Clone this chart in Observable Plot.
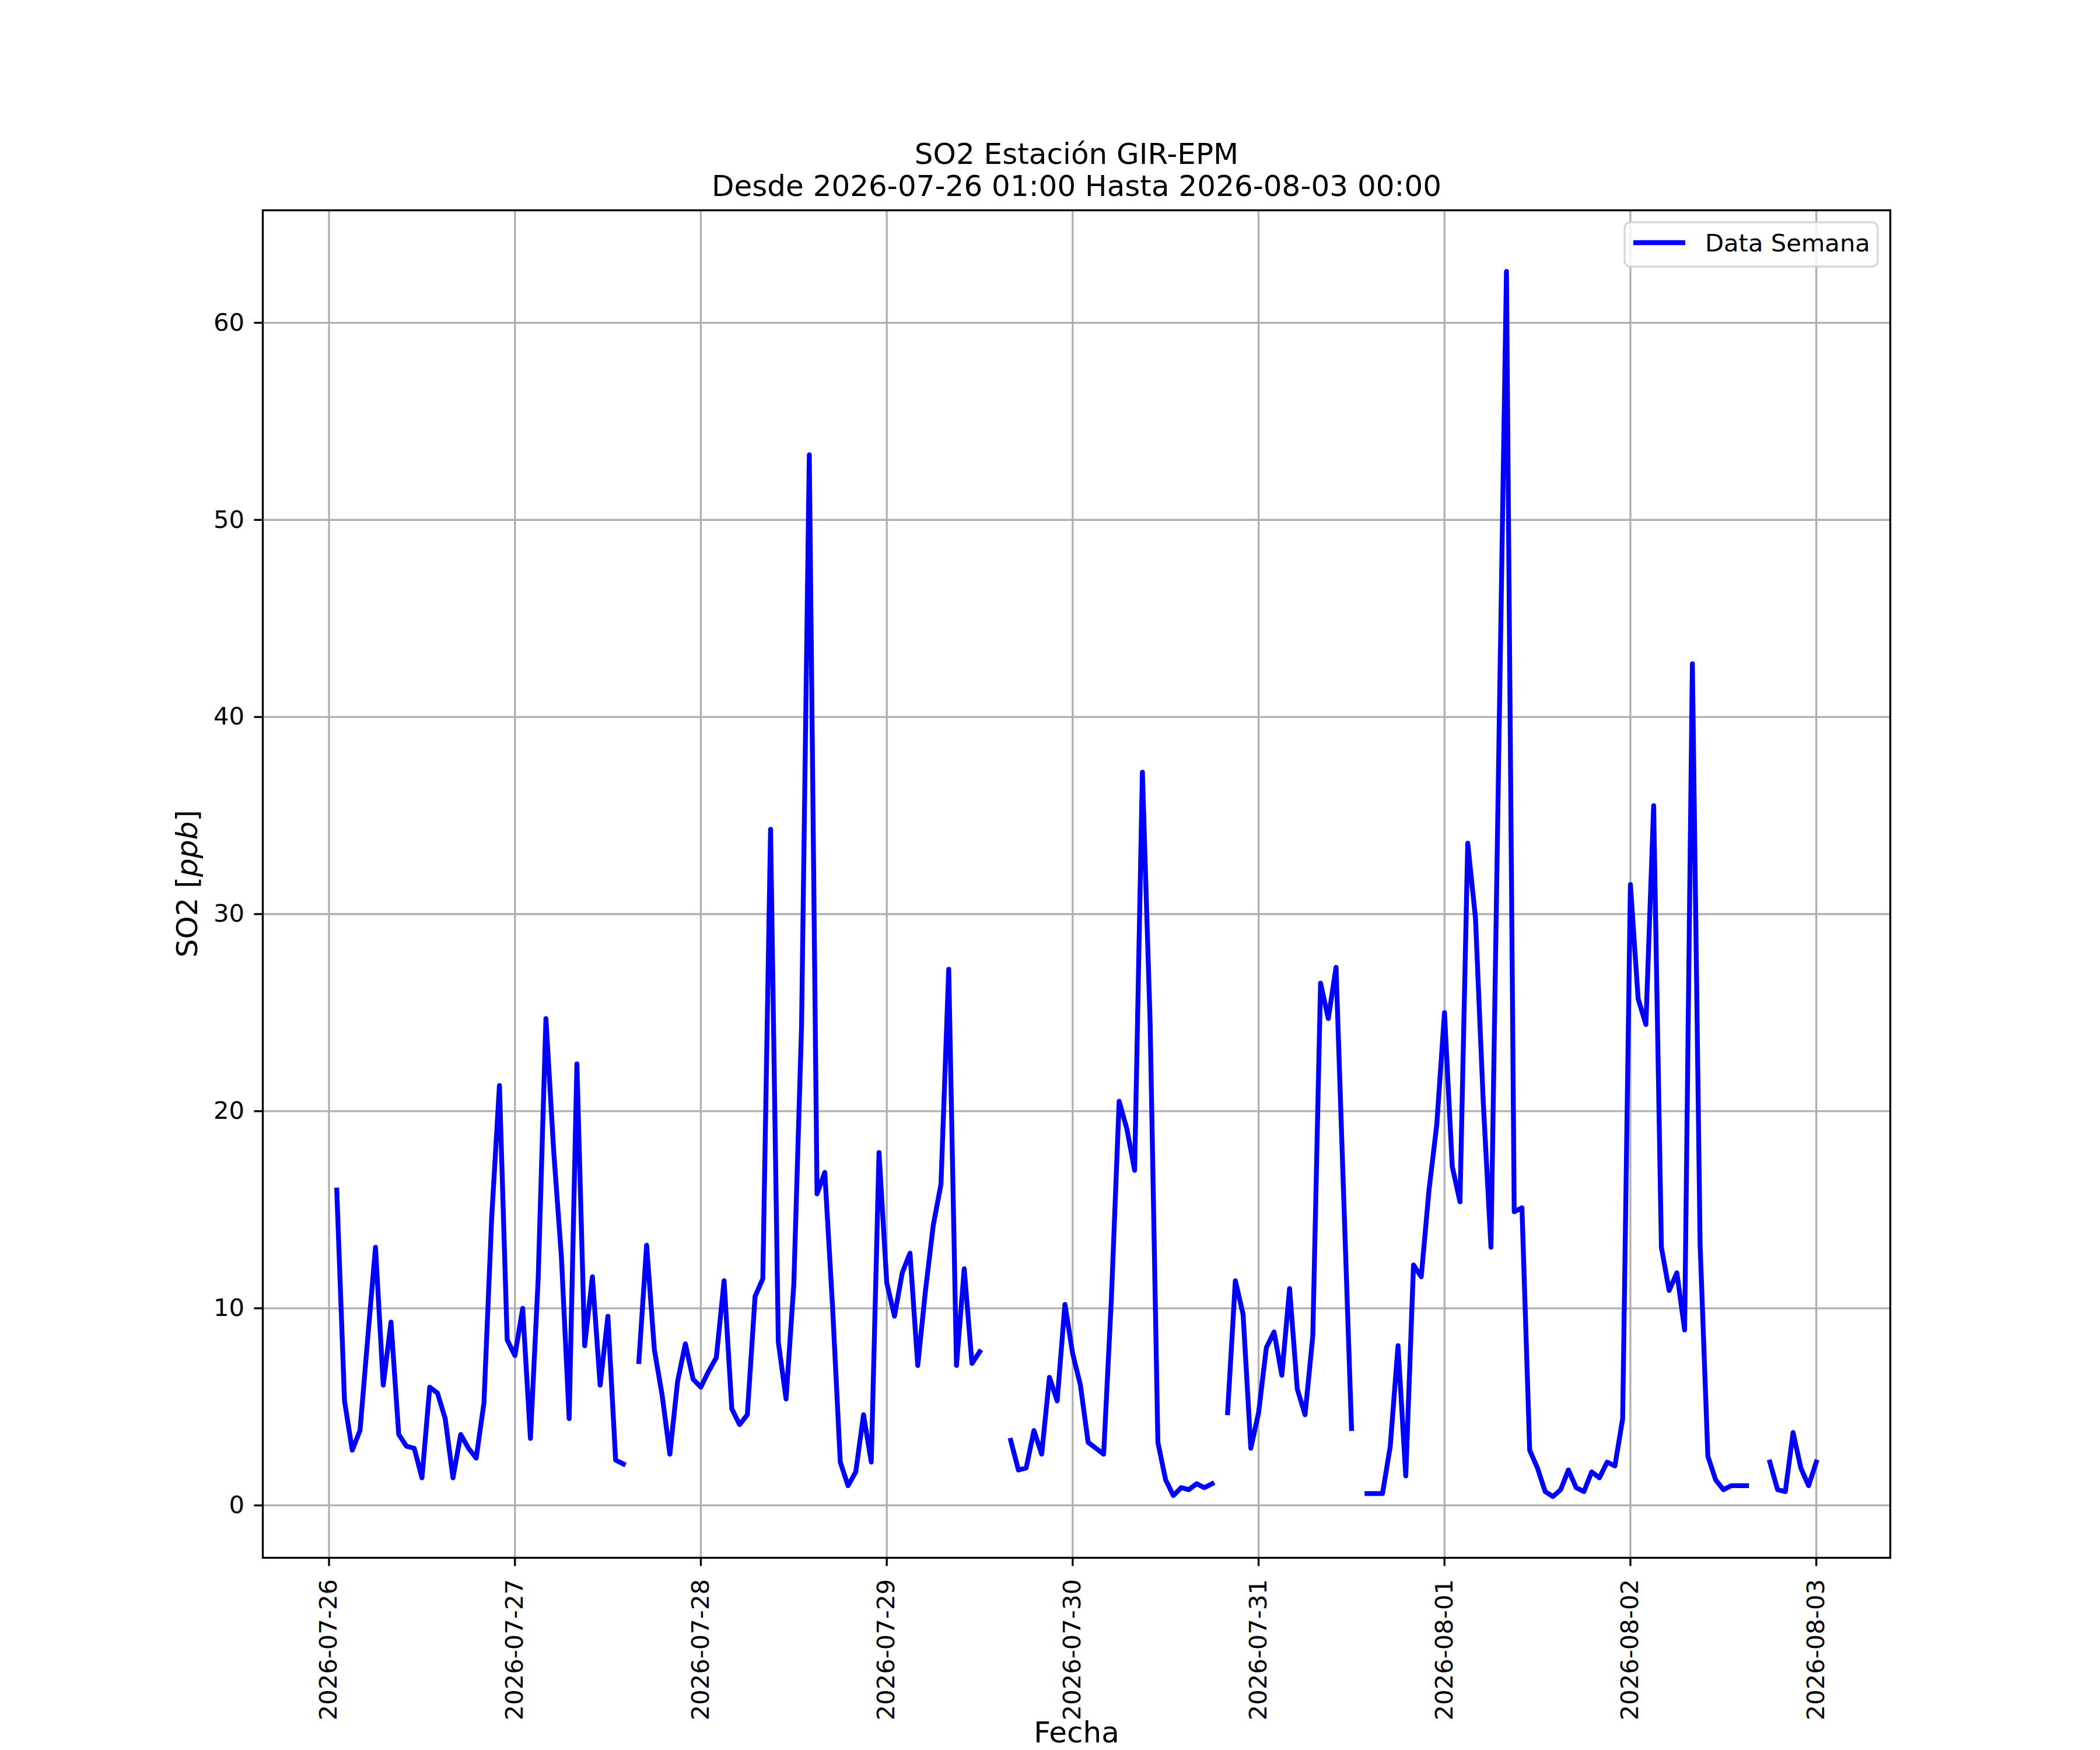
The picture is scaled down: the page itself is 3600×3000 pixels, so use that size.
<!DOCTYPE html>
<html>
<head>
<meta charset="utf-8">
<script src="https://cdn.jsdelivr.net/npm/d3@7"></script>
<script src="https://cdn.jsdelivr.net/npm/@observablehq/plot@0.6"></script>
<style>
  html, body { margin: 0; padding: 0; background: #ffffff; }
  svg { display: block; }
</style>
</head>
<body>
<div id="chart"></div>
<script>
// ---- Data (hourly SO2 in ppb, from 2026-07-26 01:00 to 2026-08-03 00:00; null = missing) ----
const startTime = "2026-07-26T01:00:00Z";
const so2 = [
  16.0, 5.3, 2.8, 3.8, 8.5, 13.1, 6.1, 9.3, 3.6, 3.0, 2.9, 1.4,
  6.0, 5.7, 4.4, 1.4, 3.6, 2.9, 2.4, 5.2, 14.6, 21.3, 8.4, 7.6,
  10.0, 3.4, 11.5, 24.7, 18.0, 12.6, 4.4, 22.4, 8.1, 11.6, 6.1, 9.6,
  2.3, 2.1, null, 7.3, 13.2, 7.9, 5.6, 2.6, 6.3, 8.2, 6.4, 6.0,
  6.8, 7.5, 11.4, 4.9, 4.1, 4.6, 10.6, 11.5, 34.3, 8.3, 5.4, 11.2,
  24.3, 53.3, 15.8, 16.9, 10.1, 2.2, 1.0, 1.7, 4.6, 2.2, 17.9, 11.3,
  9.6, 11.8, 12.8, 7.1, 10.9, 14.2, 16.3, 27.2, 7.1, 12.0, 7.2, 7.8,
  null, null, null, 3.3, 1.8, 1.9, 3.8, 2.6, 6.5, 5.3, 10.2, 7.7,
  6.1, 3.2, 2.9, 2.6, 10.5, 20.5, 19.1, 17.0, 37.2, 24.5, 3.2, 1.3,
  0.5, 0.9, 0.8, 1.1, 0.9, 1.1, null, 4.7, 11.4, 9.7, 2.9, 4.7,
  8.0, 8.8, 6.6, 11.0, 5.9, 4.6, 8.6, 26.5, 24.7, 27.3, 15.5, 3.9,
  null, 0.6, 0.6, 0.6, 3.0, 8.1, 1.5, 12.2, 11.6, 16.0, 19.3, 25.0,
  17.2, 15.4, 33.6, 29.8, 20.5, 13.1, 38.0, 62.6, 14.9, 15.1, 2.8, 1.9,
  0.7, 0.45, 0.8, 1.8, 0.9, 0.7, 1.7, 1.4, 2.2, 2.0, 4.4, 31.5,
  25.7, 24.4, 35.5, 13.1, 10.9, 11.8, 8.9, 42.7, 13.2, 2.5, 1.3, 0.8,
  1.0, 1.0, 1.0, null, null, 2.2, 0.8, 0.7, 3.7, 1.9, 1.0, 2.2
];
const xTickLabels = ["2026-07-26", "2026-07-27", "2026-07-28", "2026-07-29", "2026-07-30",
                     "2026-07-31", "2026-08-01", "2026-08-02", "2026-08-03"];
const yTickValues = [0, 10, 20, 30, 40, 50, 60];
const titleText = "SO2 Estación GIR-EPM\nDesde 2026-07-26 01:00 Hasta 2026-08-03 00:00";
const xLabelText = "Fecha";
const seriesName = "Data Semana";

// ---- Build table ----
const t0 = new Date(startTime).getTime();
const rows = so2.map((v, i) => ({
  fecha: new Date(t0 + i * 3600 * 1000),
  so2: v == null ? NaN : v
}));
const xTicks = xTickLabels.map(s => new Date(s + "T00:00:00Z"));

// matplotlib-like 5% autoscale margins
const [tmin, tmax] = d3.extent(rows, d => d.fecha.getTime());
const tpad = (tmax - tmin) * 0.05;
const valid = so2.filter(v => v != null);
const [vmin, vmax] = d3.extent(valid);
const vpad = (vmax - vmin) * 0.05;

const W = 3600, H = 3000;
const mL = 450, mR = 360, mT = 360, mB = 330;
const gridColor = "#b0b0b0";
const lw = 3.33;
const dataLw = 8.33;

const chart = Plot.plot({
  width: W,
  height: H,
  marginLeft: mL,
  marginRight: mR,
  marginTop: mT,
  marginBottom: mB,
  style: { fontFamily: "DejaVu Sans", background: "#ffffff", color: "#000000", overflow: "visible" },
  x: { type: "utc", domain: [new Date(tmin - tpad), new Date(tmax + tpad)] },
  y: { domain: [vmin - vpad, vmax + vpad] },
  marks: [
    Plot.gridX({ ticks: xTicks, stroke: gridColor, strokeOpacity: 1, strokeWidth: lw }),
    Plot.gridY({ ticks: yTickValues, stroke: gridColor, strokeOpacity: 1, strokeWidth: lw }),
    Plot.lineY(rows, {
      x: "fecha", y: "so2",
      stroke: "#0000ff", strokeWidth: dataLw,
      strokeLinejoin: "round", strokeLinecap: "square"
    }),
    Plot.frame({ stroke: "#000000", strokeWidth: lw }),
    Plot.axisX({
      ticks: xTicks, tickFormat: d3.utcFormat("%Y-%m-%d"), tickRotate: -90,
      tickSize: 14.6, tickPadding: 22, fontSize: 41.67, label: null,
      stroke: "#000000", strokeWidth: lw
    }),
    Plot.axisY({
      ticks: yTickValues, tickFormat: d => String(d),
      tickSize: 14.6, tickPadding: 17, fontSize: 41.67, label: null,
      stroke: "#000000", strokeWidth: lw
    }),
    Plot.text([titleText], {
      frameAnchor: "top", dy: -25, lineAnchor: "bottom", lineHeight: 1.1,
      fontSize: 50, fill: "#000000", text: d => d
    }),
    Plot.text([xLabelText], {
      frameAnchor: "bottom", dy: 316, lineAnchor: "bottom",
      fontSize: 50, fill: "#000000", text: d => d
    })
  ]
});

// ---- y label with italic unit (like matplotlib mathtext) ----
const svg = d3.select(chart);
const ylab = svg.append("text")
  .attr("transform", `translate(${mL - 112},${mT + (H - mT - mB) / 2}) rotate(-90)`)
  .attr("text-anchor", "middle")
  .attr("font-family", "DejaVu Sans")
  .attr("font-size", 50)
  .attr("fill", "#000000");
ylab.append("tspan").text("SO2 [");
ylab.append("tspan").attr("font-style", "italic").text("ppb");
ylab.append("tspan").text("]");

// ---- legend (upper right) ----
const right = W - mR;
const leg = svg.append("g");
leg.append("rect")
  .attr("x", right - 455).attr("y", mT + 21)
  .attr("width", 434).attr("height", 76)
  .attr("rx", 10).attr("ry", 10)
  .attr("fill", "#ffffff").attr("fill-opacity", 0.8)
  .attr("stroke", "#cccccc").attr("stroke-opacity", 0.8).attr("stroke-width", lw);
leg.append("line")
  .attr("x1", right - 440).attr("x2", right - 351)
  .attr("y1", mT + 56).attr("y2", mT + 56)
  .attr("stroke", "#0000ff").attr("stroke-width", dataLw).attr("stroke-linecap", "butt");
leg.append("text")
  .attr("x", right - 317).attr("y", mT + 71)
  .attr("text-anchor", "start")
  .attr("font-family", "DejaVu Sans").attr("font-size", 41.67)
  .attr("fill", "#000000")
  .text(seriesName);

document.getElementById("chart").appendChild(chart);
</script>
</body>
</html>
